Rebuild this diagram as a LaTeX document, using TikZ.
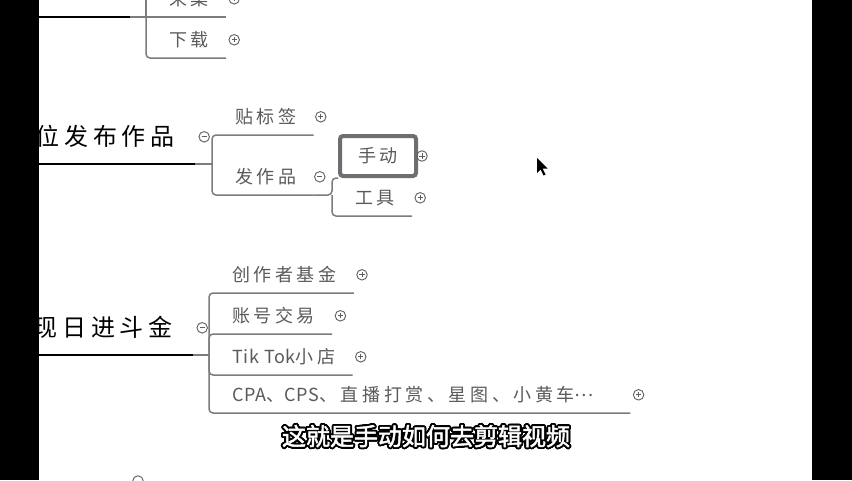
\documentclass[tikz,border=0pt]{standalone}
\usepackage{fontspec}
\usepackage{xcolor}
\usepackage[copies]{contour}
\usepackage{tikz}
\usetikzlibrary{positioning}
\newfontfamily\cjk[LetterSpace=20]{Noto Sans CJK SC}
\newfontfamily\lat[LetterSpace=4]{Noto Sans CJK SC}
\newfontfamily\cjkbig[LetterSpace=20]{Noto Sans CJK SC}
\newfontfamily\cjksub[FakeBold=2]{Noto Sans CJK SC}
\definecolor{leafgray}{HTML}{5A5A5A}
\definecolor{linegray}{HTML}{7C7C7C}
\definecolor{markgray}{HTML}{5F5F5F}
\definecolor{boxgray}{HTML}{6E6E72}
\contourlength{1.8pt}
\contournumber{32}
\tikzset{
    parent/.style={
           rectangle,
           font=\cjkbig\fontsize{24}{24}\selectfont,
           text=black,
           inner xsep=20pt, inner ysep=15.5pt,
           text height=20pt, text depth=3pt,
           anchor=south east,
           },
    leaf/.style={
           rectangle,
           font=\cjk\fontsize{18}{18}\selectfont,
           text=leafgray,
           inner xsep=17pt, inner ysep=9.5pt,
           text height=15pt, text depth=2pt,
           execute at begin node={\hspace*{6pt}},
           anchor=south west,
           },
    selbox/.style={
           rectangle,
           rounded corners=3pt,
           draw=boxgray, line width=4pt,
           font=\cjk\fontsize{18}{18}\selectfont,
           text=leafgray,
           minimum width=76pt, minimum height=40pt,
           inner sep=0pt,
           },
    plusmark/.style={
           circle, draw=markgray, line width=0.9pt,
           minimum size=10.5pt, inner sep=0pt,
           path picture={\draw[markgray, line width=0.9pt]
               ([xshift=-2.6pt]path picture bounding box.center) -- ([xshift=2.6pt]path picture bounding box.center)
               ([yshift=-2.6pt]path picture bounding box.center) -- ([yshift=2.6pt]path picture bounding box.center);},
           },
    minusmark/.style={
           circle, draw=markgray, line width=0.9pt,
           minimum size=10.5pt, inner sep=0pt,
           path picture={\draw[markgray, line width=0.9pt]
               ([xshift=-2.6pt]path picture bounding box.center) -- ([xshift=2.6pt]path picture bounding box.center);},
           },
    stem/.style={black, line width=2.5pt},
    branch/.style={linegray, line width=1.5pt, rounded corners=4pt},
    subtitle/.style={
           font=\cjksub\fontsize{24}{24}\selectfont,
           text=white, inner sep=0pt,
           },
}
\begin{document}
\begin{tikzpicture}[x=1pt, y=-1pt, node distance=2.5pt]
	\useasboundingbox (0,0) rectangle (852,480);
	\fill[black] (0,0) rectangle (852,480);
	\fill[white] (39,0) rectangle (812,480);
	\begin{scope}
	\clip (39,0) rectangle (812,480);

	% top branch, cut off by the frame
	\coordinate (sucai-l) at (0,17);
	\coordinate (sucai) at (130,17);
	\coordinate (sucai-up) at (146,-40);
	\node[leaf] (caiji) at (146,17) {采集};
	\node[leaf] (xiazai) at (146,58) {下载};
	\node[plusmark, right=of caiji] (caiji-x) {};
	\node[plusmark, right=of xiazai] (xiazai-x) {};
	\draw[stem] (sucai-l) -- (sucai);
	\draw[branch] (sucai) -- (caiji.south west) -- (caiji.south east);
	\draw[branch] (sucai-up) -- (caiji.south west);
	\draw[branch] (caiji.south west) -- (xiazai.south west) -- (xiazai.south east);

	% posting
	\node[parent] (fabu) at (195,164) {位发布作品};
	\node[minusmark, right=3.5pt of fabu] (fabu-m) {};
	\node[leaf] (tiebq) at (212,135) {贴标签};
	\node[leaf] (fzp) at (212,195) {发作品};
	\node[plusmark, right=1.5pt of tiebq] (tiebq-x) {};
	\node[minusmark, right=0.5pt of fzp] (fzp-m) {};
	\draw[stem] (fabu.south west) -- (fabu.south east);
	\draw[branch] (fabu.south east) -- (fabu.south east -| tiebq.south west);
	\foreach \c in {tiebq,fzp}
		\draw[branch] (fabu.south east -| tiebq.south west) -- (\c.south west) -- (\c.south east);

	\node[selbox] (sd) at (378,156) {手动};
	\node[leaf] (gj) at (332,216) {工具};
	\node[plusmark] (sd-x) at ([xshift=4pt]sd.east) {};
	\node[plusmark, right=of gj] (gj-x) {};
	\draw[branch] (fzp.south east) -- (gj.south west |- fzp.south east)
		-- (gj.south west |- sd.south west) -- (sd.south west);
	\draw[branch] (gj.south west |- fzp.south east) -- (gj.south west) -- (gj.south east);

	% income
	\node[parent] (bjin) at (193,355) {现日进斗金};
	\node[minusmark, right=3.5pt of bjin] (bjin-m) {};
	\node[leaf] (cz) at (209,293) {创作者基金};
	\node[leaf] (zh) at (209,334) {账号交易};
	\node[leaf] (tk) at (209,375) {{\lat Tik Tok}小店};
	\node[leaf, text width=387pt, align=left] (cpa) at (209,413)
		{{\lat CPA}、{\lat CPS}、直播打赏、星图、小黄车\raisebox{5pt}{\lat …}};
	\foreach \c in {cz,zh,tk,cpa}
		\node[plusmark, right=of \c] (\c-x) {};
	\draw[stem] (bjin.south west) -- (bjin.south east);
	\draw[branch] (bjin.south east) -- (bjin.south east -| cz.south west);
	\foreach \c in {cz,zh,tk,cpa}
		\draw[branch] (bjin.south east -| cz.south west) -- (\c.south west) -- (\c.south east);

	% next branch, cut off by the frame
	\node[minusmark] (buju-m) at (138,481) {};

	% pointer
	\fill[black] (537,158) -- ++(0,15) -- ++(3.5,-3.5) -- ++(3,6) -- ++(2,-1)
		-- ++(-3,-6) -- ++(5,0) -- cycle;

	% caption
	\node[subtitle] (zimu) at (426,437) {\contour{black}{这就是手动如何去剪辑视频}};
	\end{scope}
\end{tikzpicture}
\end{document}
